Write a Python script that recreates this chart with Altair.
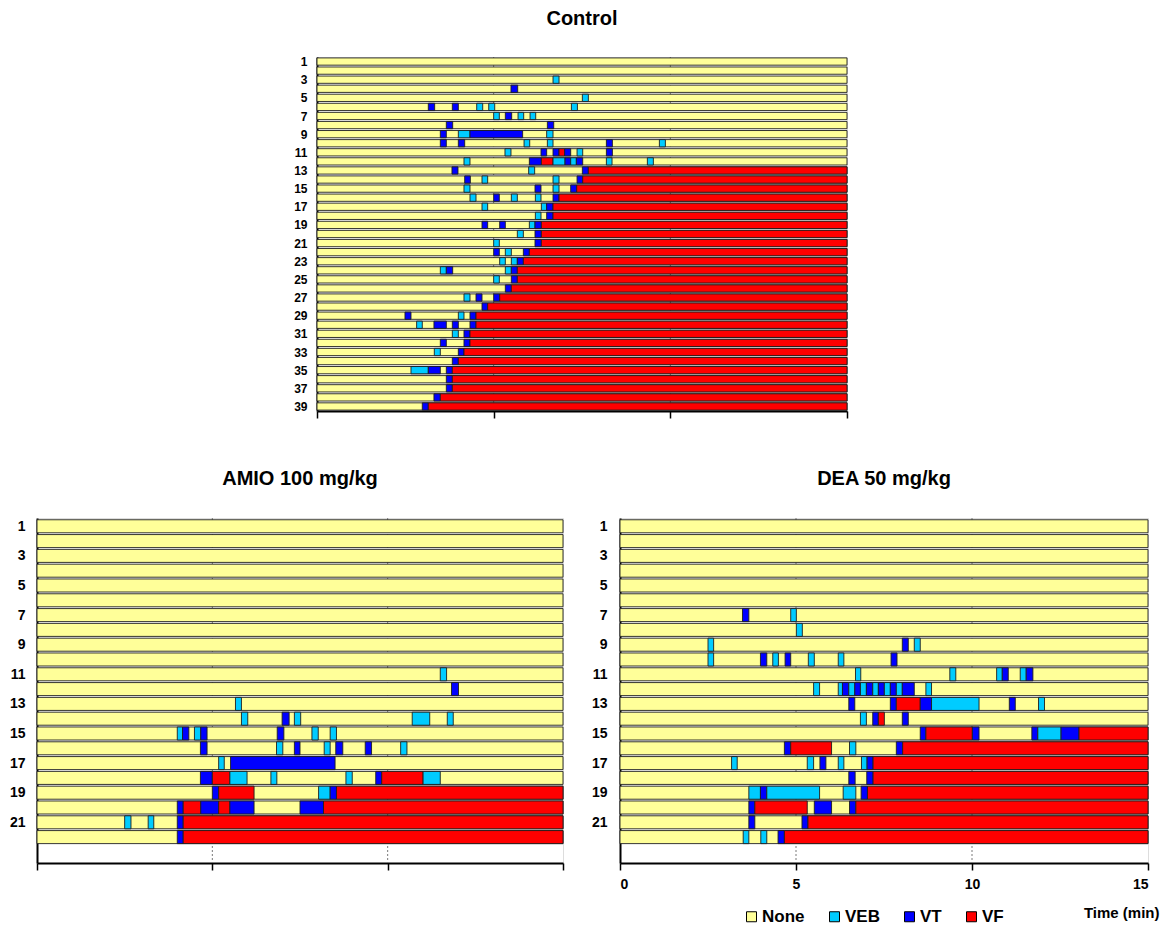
import altair as alt
import pandas as pd

FONT = "Liberation Sans"
TYPES = ["None", "VEB", "VT", "VF"]
COLORS = ["#FFFF99", "#00CCFF", "#0000FF", "#FF0000"]
T_MAX = 15
X_TICKS = [0, 5, 10, 15]
GRID_X = [5, 10]

CONTROL_ROWS = 39
AMIO_ROWS = 22
DEA_ROWS = 22

# (animal row, start min, end min, arrhythmia type)
CONTROL_EVENTS = [
    (3, 6.68, 6.85, "VEB"),
    (4, 5.49, 5.68, "VT"),
    (5, 7.51, 7.68, "VEB"),
    (6, 3.15, 3.33, "VT"), (6, 3.83, 4.0, "VT"), (6, 4.52, 4.69, "VEB"), (6, 4.86, 5.03, "VEB"), (6, 7.2, 7.37, "VEB"),
    (7, 5.0, 5.16, "VEB"), (7, 5.33, 5.51, "VT"), (7, 5.69, 5.85, "VEB"), (7, 6.03, 6.19, "VEB"),
    (8, 3.66, 3.84, "VT"), (8, 6.52, 6.7, "VT"),
    (9, 3.49, 3.66, "VT"), (9, 4.0, 4.33, "VEB"), (9, 4.33, 5.82, "VT"), (9, 6.5, 6.68, "VEB"),
    (10, 3.49, 3.66, "VT"), (10, 4.0, 4.18, "VT"), (10, 5.86, 6.02, "VEB"), (10, 6.52, 6.68, "VEB"), (10, 8.19, 8.36, "VT"), (10, 9.69, 9.86, "VEB"),
    (11, 5.32, 5.49, "VEB"), (11, 6.34, 6.5, "VT"), (11, 6.68, 6.85, "VT"), (11, 6.85, 7.01, "VF"), (11, 7.01, 7.18, "VT"), (11, 7.36, 7.52, "VEB"), (11, 8.19, 8.36, "VT"),
    (12, 4.16, 4.33, "VEB"), (12, 6.01, 6.35, "VT"), (12, 6.35, 6.68, "VF"), (12, 6.68, 7.02, "VEB"), (12, 7.02, 7.18, "VT"), (12, 7.18, 7.34, "VEB"), (12, 7.34, 7.52, "VT"), (12, 8.19, 8.35, "VEB"), (12, 9.35, 9.52, "VEB"),
    (13, 3.82, 3.99, "VT"), (13, 5.99, 6.16, "VEB"), (13, 7.51, 7.68, "VT"), (13, 7.68, 15, "VF"),
    (14, 4.18, 4.34, "VT"), (14, 4.67, 4.83, "VEB"), (14, 6.68, 6.85, "VEB"), (14, 7.36, 7.52, "VT"), (14, 7.52, 15, "VF"),
    (15, 4.16, 4.33, "VEB"), (15, 6.17, 6.34, "VT"), (15, 6.68, 6.85, "VEB"), (15, 7.18, 7.35, "VT"), (15, 7.35, 15, "VF"),
    (16, 4.33, 4.5, "VEB"), (16, 5.0, 5.16, "VT"), (16, 5.5, 5.67, "VEB"), (16, 6.18, 6.34, "VEB"), (16, 6.68, 6.85, "VT"), (16, 6.85, 15, "VF"),
    (17, 4.67, 4.83, "VEB"), (17, 6.35, 6.5, "VEB"), (17, 6.5, 6.68, "VT"), (17, 6.68, 15, "VF"),
    (18, 6.18, 6.34, "VEB"), (18, 6.5, 6.68, "VT"), (18, 6.68, 15, "VF"),
    (19, 4.67, 4.83, "VT"), (19, 5.17, 5.33, "VT"), (19, 6.01, 6.17, "VEB"), (19, 6.17, 6.35, "VT"), (19, 6.35, 15, "VF"),
    (20, 5.67, 5.84, "VEB"), (20, 6.17, 6.35, "VT"), (20, 6.35, 15, "VF"),
    (21, 5.0, 5.16, "VEB"), (21, 6.17, 6.35, "VT"), (21, 6.35, 15, "VF"),
    (22, 5.0, 5.16, "VT"), (22, 5.33, 5.5, "VEB"), (22, 5.84, 6.01, "VT"), (22, 6.01, 15, "VF"),
    (23, 5.17, 5.33, "VEB"), (23, 5.5, 5.67, "VEB"), (23, 5.67, 5.84, "VT"), (23, 5.84, 15, "VF"),
    (24, 3.49, 3.66, "VEB"), (24, 3.66, 3.84, "VT"), (24, 5.33, 5.5, "VEB"), (24, 5.5, 5.67, "VT"), (24, 5.67, 15, "VF"),
    (25, 5.0, 5.16, "VEB"), (25, 5.5, 5.67, "VT"), (25, 5.67, 15, "VF"),
    (26, 5.33, 5.5, "VT"), (26, 5.5, 15, "VF"),
    (27, 4.16, 4.33, "VEB"), (27, 4.5, 4.67, "VT"), (27, 5.0, 5.17, "VT"), (27, 5.17, 15, "VF"),
    (28, 4.67, 4.83, "VT"), (28, 4.83, 15, "VF"),
    (29, 2.49, 2.66, "VT"), (29, 4.0, 4.16, "VEB"), (29, 4.33, 4.5, "VT"), (29, 4.5, 15, "VF"),
    (30, 2.82, 2.98, "VEB"), (30, 3.31, 3.66, "VT"), (30, 3.83, 4.0, "VT"), (30, 4.33, 4.5, "VT"), (30, 4.5, 15, "VF"),
    (31, 3.83, 4.0, "VEB"), (31, 4.16, 4.33, "VT"), (31, 4.33, 15, "VF"),
    (32, 3.49, 3.66, "VT"), (32, 4.16, 4.33, "VT"), (32, 4.33, 15, "VF"),
    (33, 3.32, 3.49, "VEB"), (33, 4.0, 4.16, "VT"), (33, 4.16, 15, "VF"),
    (34, 3.83, 4.0, "VT"), (34, 4.0, 15, "VF"),
    (35, 2.66, 3.15, "VEB"), (35, 3.15, 3.49, "VT"), (35, 3.66, 3.83, "VT"), (35, 3.83, 15, "VF"),
    (36, 3.66, 3.83, "VT"), (36, 3.83, 15, "VF"),
    (37, 3.66, 3.83, "VT"), (37, 3.83, 15, "VF"),
    (38, 3.31, 3.49, "VT"), (38, 3.49, 15, "VF"),
    (39, 2.98, 3.15, "VT"), (39, 3.15, 15, "VF"),
]

AMIO_EVENTS = [
    (11, 11.5, 11.68, "VEB"),
    (12, 11.82, 12.02, "VT"),
    (13, 5.66, 5.83, "VEB"),
    (14, 5.83, 6.01, "VEB"), (14, 6.99, 7.19, "VT"), (14, 7.34, 7.52, "VEB"), (14, 10.7, 11.2, "VEB"), (14, 11.7, 11.87, "VEB"),
    (15, 4.0, 4.15, "VEB"), (15, 4.15, 4.33, "VT"), (15, 4.49, 4.67, "VEB"), (15, 4.67, 4.85, "VT"), (15, 6.85, 7.04, "VT"), (15, 7.84, 8.02, "VEB"), (15, 8.36, 8.54, "VEB"),
    (16, 4.66, 4.85, "VT"), (16, 6.83, 7.01, "VEB"), (16, 7.34, 7.5, "VT"), (16, 8.19, 8.36, "VEB"), (16, 8.52, 8.72, "VT"), (16, 9.36, 9.54, "VT"), (16, 10.37, 10.55, "VEB"),
    (17, 5.18, 5.34, "VEB"), (17, 5.52, 8.5, "VT"),
    (18, 4.66, 5.0, "VT"), (18, 5.0, 5.5, "VF"), (18, 5.5, 5.99, "VEB"), (18, 6.67, 6.84, "VEB"), (18, 8.81, 8.99, "VEB"), (18, 9.66, 9.83, "VT"), (18, 9.83, 11.01, "VF"), (18, 11.01, 11.5, "VEB"),
    (19, 5.0, 5.18, "VT"), (19, 5.18, 6.19, "VF"), (19, 8.03, 8.36, "VEB"), (19, 8.36, 8.54, "VT"), (19, 8.54, 15, "VF"),
    (20, 4.0, 4.17, "VT"), (20, 4.17, 4.67, "VF"), (20, 4.67, 5.18, "VT"), (20, 5.18, 5.5, "VF"), (20, 5.5, 6.19, "VT"), (20, 7.5, 8.17, "VT"), (20, 8.17, 15, "VF"),
    (21, 2.5, 2.68, "VEB"), (21, 3.17, 3.33, "VEB"), (21, 4.0, 4.17, "VT"), (21, 4.17, 15, "VF"),
    (22, 4.0, 4.17, "VT"), (22, 4.17, 15, "VF"),
]

DEA_EVENTS = [
    (7, 3.48, 3.66, "VT"), (7, 4.85, 5.01, "VEB"),
    (8, 5.01, 5.18, "VEB"),
    (9, 2.5, 2.66, "VEB"), (9, 8.02, 8.19, "VT"), (9, 8.36, 8.53, "VEB"),
    (10, 2.5, 2.66, "VEB"), (10, 3.99, 4.17, "VT"), (10, 4.34, 4.5, "VEB"), (10, 4.69, 4.85, "VT"), (10, 5.35, 5.52, "VEB"), (10, 6.2, 6.36, "VEB"), (10, 7.7, 7.87, "VT"),
    (11, 6.69, 6.84, "VEB"), (11, 9.37, 9.54, "VEB"), (11, 10.7, 10.86, "VEB"), (11, 10.86, 11.03, "VT"), (11, 11.37, 11.54, "VEB"), (11, 11.54, 11.73, "VT"),
    (12, 5.5, 5.67, "VEB"), (12, 6.2, 6.32, "VEB"), (12, 6.32, 6.5, "VT"), (12, 6.5, 6.67, "VEB"), (12, 6.67, 6.83, "VT"), (12, 6.83, 7.0, "VEB"), (12, 7.0, 7.18, "VT"), (12, 7.18, 7.34, "VEB"), (12, 7.34, 7.51, "VT"), (12, 7.51, 7.68, "VEB"), (12, 7.68, 7.85, "VT"), (12, 7.85, 8.02, "VEB"), (12, 8.02, 8.36, "VT"), (12, 8.69, 8.85, "VEB"),
    (13, 6.5, 6.67, "VT"), (13, 7.68, 7.85, "VT"), (13, 7.85, 8.53, "VF"), (13, 8.53, 8.85, "VT"), (13, 8.85, 10.2, "VEB"), (13, 11.06, 11.23, "VT"), (13, 11.89, 12.06, "VEB"),
    (14, 6.83, 7.0, "VEB"), (14, 7.18, 7.34, "VT"), (14, 7.34, 7.51, "VF"), (14, 8.02, 8.19, "VT"),
    (15, 8.53, 8.69, "VT"), (15, 8.69, 10.01, "VF"), (15, 10.01, 10.2, "VT"), (15, 11.7, 11.87, "VT"), (15, 11.87, 12.53, "VEB"), (15, 12.53, 13.04, "VT"), (15, 13.04, 15, "VF"),
    (16, 4.67, 4.85, "VT"), (16, 4.85, 6.01, "VF"), (16, 6.52, 6.7, "VEB"), (16, 7.85, 8.03, "VT"), (16, 8.03, 15, "VF"),
    (17, 3.17, 3.33, "VEB"), (17, 5.32, 5.5, "VEB"), (17, 5.68, 5.85, "VT"), (17, 6.2, 6.36, "VEB"), (17, 6.86, 7.02, "VEB"), (17, 7.02, 7.19, "VT"), (17, 7.19, 15, "VF"),
    (18, 6.5, 6.68, "VT"), (18, 7.01, 7.19, "VT"), (18, 7.19, 15, "VF"),
    (19, 3.66, 3.99, "VEB"), (19, 3.99, 4.17, "VT"), (19, 4.17, 5.67, "VEB"), (19, 6.34, 6.7, "VEB"), (19, 6.85, 7.03, "VT"), (19, 7.03, 15, "VF"),
    (20, 3.66, 3.83, "VT"), (20, 3.83, 5.32, "VF"), (20, 5.52, 6.01, "VT"), (20, 6.52, 6.7, "VT"), (20, 6.7, 15, "VF"),
    (21, 3.66, 3.83, "VT"), (21, 5.17, 5.34, "VT"), (21, 5.34, 15, "VF"),
    (22, 3.5, 3.66, "VEB"), (22, 4.0, 4.17, "VEB"), (22, 4.49, 4.67, "VT"), (22, 4.67, 15, "VF"),
]


def panel(n_rows, events, title, width, height, ydom, half, ylab_size, ylab_pad,
          title_offset, show_xlabels=False, xtitle=None, legend=None):
    rows = list(range(1, n_rows + 1))
    base = pd.DataFrame({"row": rows, "start": [0.0] * n_rows,
                         "end": [float(T_MAX)] * n_rows, "type": ["None"] * n_rows})
    ev = pd.DataFrame(events, columns=["row", "start", "end", "type"])

    xscale = alt.Scale(domain=[0, T_MAX], nice=False, zero=False)
    yscale = alt.Scale(domain=ydom, reverse=True, nice=False, zero=False)
    axis_kw = dict(values=X_TICKS, labels=show_xlabels, ticks=True, tickSize=7,
                   tickWidth=1.5, tickColor="black", domainColor="black",
                   domainWidth=2, grid=False, labelFont=FONT, labelFontSize=14,
                   labelFontWeight="bold", labelColor="black", labelPadding=7)
    if xtitle:
        axis_kw.update(title=xtitle, titleFont=FONT, titleFontSize=15,
                       titleFontWeight="bold", titleColor="black", titleX=539,
                       titleY=49, titleAlign="right", titleBaseline="middle")
    else:
        axis_kw.update(title=None)
    xaxis = alt.Axis(**axis_kw)
    yaxis = alt.Axis(values=list(range(1, n_rows + 1, 2)), format="d", ticks=False,
                     grid=False, domainColor="black", domainWidth=2, title=None,
                     labelFont=FONT, labelFontSize=ylab_size, labelFontWeight="bold",
                     labelColor="black", labelPadding=ylab_pad)
    color = alt.Color("type:N", scale=alt.Scale(domain=TYPES, range=COLORS),
                      legend=legend)

    grid = alt.Chart(pd.DataFrame({"g": GRID_X})).mark_rule(
        color="#7a7a7a", strokeDash=[2, 2], strokeWidth=1
    ).encode(x=alt.X("g:Q", scale=xscale, axis=xaxis))

    def bars(df):
        return alt.Chart(df).transform_calculate(
            y1=f"datum.row - {half}", y2=f"datum.row + {half}"
        ).mark_rect(stroke="#1e1e1e", strokeWidth=0.9).encode(
            x=alt.X("start:Q", scale=xscale, axis=xaxis),
            x2="end:Q",
            y=alt.Y("y1:Q", scale=yscale, axis=yaxis),
            y2="y2:Q",
            color=color,
        )

    return alt.layer(grid, bars(base), bars(ev)).properties(
        width=width, height=height,
        title=alt.TitleParams(title, font=FONT, fontSize=20, fontWeight="bold",
                              color="black", offset=title_offset, anchor="middle"),
    )


control = panel(CONTROL_ROWS, CONTROL_EVENTS, "Control", 530, 354, [0.5, 39.5],
                0.4, 12, 10, 27)
amio = panel(AMIO_ROWS, AMIO_EVENTS, "AMIO 100 mg/kg", 526, 345, [0.44, 23.75],
             0.44, 14, 12, 29)
legend = alt.Legend(title=None, orient="none", legendX=121, legendY=388,
                    direction="horizontal", symbolType="square", symbolSize=100,
                    symbolStrokeColor="black", symbolStrokeWidth=1,
                    labelFont=FONT, labelFontSize=17, labelFontWeight="bold",
                    labelColor="black", labelOffset=2, columnPadding=21,
                    padding=2)
dea = panel(DEA_ROWS, DEA_EVENTS, "DEA 50 mg/kg", 528, 345, [0.44, 23.75],
            0.44, 14, 13, 29, show_xlabels=True, xtitle="Time (min)", legend=legend)

spacer = alt.Chart(pd.DataFrame({"a": [0]})).mark_point(opacity=0).encode(
    x=alt.value(0), y=alt.value(0)
).properties(width=255, height=10,
             view=alt.ViewBackground(stroke="transparent", fill="transparent"))

top = alt.hconcat(spacer, control, spacing=0).resolve_scale(color="independent")
bottom = alt.hconcat(amio, dea, spacing=25).resolve_scale(color="independent")

chart = alt.vconcat(top, bottom, spacing=48).resolve_scale(
    color="independent"
).properties(
    padding={"left": 0, "top": 0, "right": 0, "bottom": 0}
).configure_view(stroke=None).configure(background="white")

chart.save("out.html", embed_options={"renderer": "svg", "actions": False})
